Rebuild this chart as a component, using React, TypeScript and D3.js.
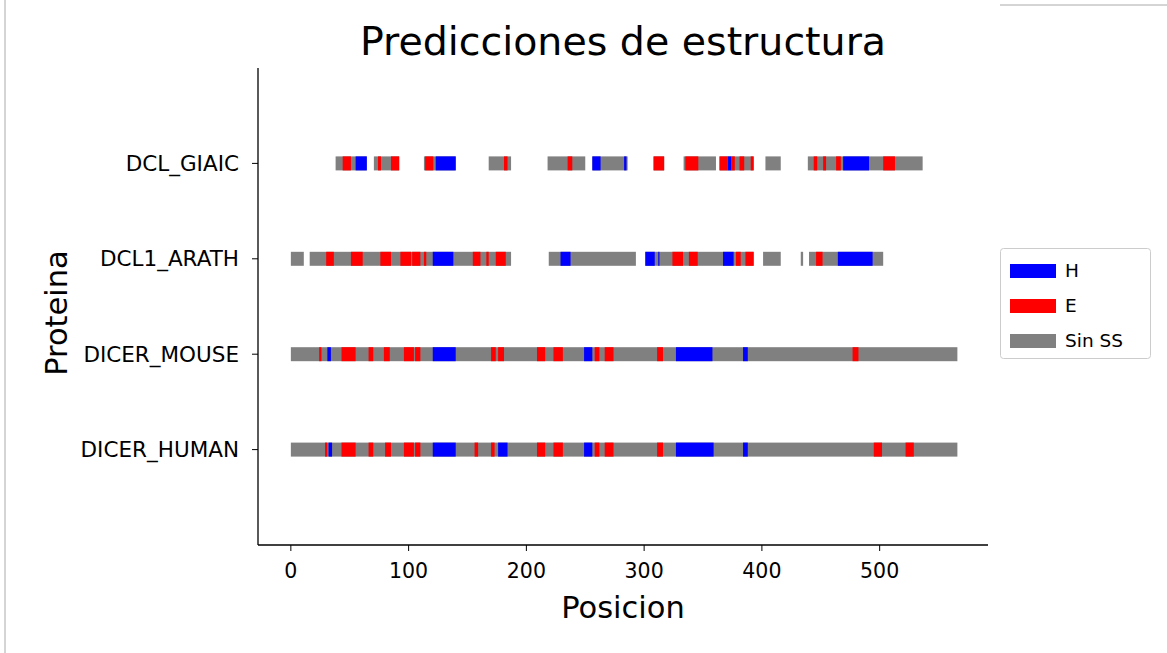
import React from 'react';
import * as d3 from 'd3';

// proteins from bottom to top
const proteins = ['DICER_HUMAN', 'DICER_MOUSE', 'DCL1_ARATH', 'DCL_GIAIC'];
const xTicks = [0, 100, 200, 300, 400, 500];

// [start, end] spans in residue positions
const giaicSpans = [[38, 64.5], [70.5, 92], [113, 140], [168, 187], [218, 250], [256, 286], [308, 317], [333.5, 361], [364, 393], [403, 416], [439, 536.5]];
const giaicHelix = [[55, 64.5], [123, 140], [256, 263], [283, 285], [371, 374], [469, 491]];
const giaicStrand = [[44, 51], [74, 76.5], [85, 92], [114, 121], [181, 184], [235, 239], [308, 317], [335, 346], [364, 371], [374, 377], [381, 385], [390.5, 393], [444, 447], [452, 454.5], [463, 467], [503, 513]];

const arathSpans = [[0, 11], [16, 187], [219, 293], [301, 393], [401, 416], [433, 435], [440, 503]];
const arathHelix = [[120.5, 138], [229, 237.5], [301, 309], [312, 313], [367, 376], [464.5, 494]];
const arathStrand = [[30, 36.5], [51, 61], [76, 85], [93, 102], [103, 110], [113, 115], [154.5, 161], [166, 168], [174, 182.5], [324, 333], [338, 345.5], [378, 382], [386, 393], [446, 451.5]];

const mouseSpans = [[0, 566]];
const mouseHelix = [[31, 34], [120.5, 140], [249, 256], [327, 358], [384, 388]];
const mouseStrand = [[24, 26], [43, 55], [66, 70], [79, 84], [96, 104.5], [105.5, 110], [170, 174], [176, 181], [209, 216], [223, 231], [258, 262], [266.5, 274], [311, 316], [477, 482]];

const humanSpans = [[0, 566]];
const humanHelix = [[32, 35], [120.5, 140], [176, 184], [249, 256], [327, 359], [384, 388]];
const humanStrand = [[29, 31], [43, 55], [66, 70], [80, 85], [96, 104.5], [105.5, 110], [156, 159], [170, 173], [209, 216], [223, 231], [258, 262], [266.5, 274], [311, 316], [495, 502], [522, 529]];

const spans = [humanSpans, mouseSpans, arathSpans, giaicSpans];
const helix = [humanHelix, mouseHelix, arathHelix, giaicHelix];
const strand = [humanStrand, mouseStrand, arathStrand, giaicStrand];

const legendLabels = ['H', 'E', 'Sin SS'];
const colors = { H: '#0000ff', E: '#ff0000', C: '#808080' };

export default function App() {
  const left = 258, right = 988, top = 68, bottom = 545;
  const font = 'DejaVu Sans, sans-serif';

  const x = d3.scaleLinear().domain([-27.9, 592]).range([left, right]);
  const y = d3.scaleLinear().domain([-1, 4]).range([bottom, top]);
  const barH = 14;

  const bars = (list, i, color, key) =>
    list.map((d, j) => (
      <rect key={`${key}-${i}-${j}`} x={x(d[0])} width={x(d[1]) - x(d[0])}
        y={y(i) - barH / 2} height={barH} fill={color} />
    ));

  const legendColors = [colors.H, colors.E, colors.C];

  return (
    <svg width={1167} height={653} style={{ position: 'absolute', left: 0, top: 0, background: '#fff' }}>
      <line x1={5} x2={5} y1={0} y2={653} stroke="#aaa" />
      <line x1={1000} x2={1167} y1={5} y2={5} stroke="#aaa" />

      <text x={623} y={55} textAnchor="middle" fontFamily={font} fontSize={39.5}>Predicciones de estructura</text>

      {proteins.map((p, i) => (
        <g key={p}>
          {bars(spans[i], i, colors.C, 'c')}
          {bars(helix[i], i, colors.H, 'h')}
          {bars(strand[i], i, colors.E, 'e')}
        </g>
      ))}

      <line x1={left} x2={left} y1={top} y2={bottom} stroke="#000" strokeWidth={1.3} />
      <line x1={left} x2={right} y1={bottom} y2={bottom} stroke="#000" strokeWidth={1.3} />

      {proteins.map((p, i) => (
        <g key={`yt-${p}`}>
          <line x1={left - 6} x2={left} y1={y(i)} y2={y(i)} stroke="#000" />
          <text x={left - 19} y={y(i)} dy="0.35em" textAnchor="end" fontFamily={font} fontSize={21.5}>{p}</text>
        </g>
      ))}

      {xTicks.map((t) => (
        <g key={`xt-${t}`}>
          <line x1={x(t)} x2={x(t)} y1={bottom} y2={bottom + 6} stroke="#000" />
          <text x={x(t)} y={bottom + 33} textAnchor="middle" fontFamily={font} fontSize={20.5}>{t}</text>
        </g>
      ))}

      <text x={623} y={618} textAnchor="middle" fontFamily={font} fontSize={30.5}>Posicion</text>
      <text transform="translate(67,313) rotate(-90)" textAnchor="middle" fontFamily={font} fontSize={30.5}>Proteina</text>

      <rect x={1000.5} y={248.5} width={150} height={110} rx={3} fill="#fff" stroke="#ccc" />
      {legendLabels.map((l, i) => (
        <g key={`lg-${l}`}>
          <rect x={1010} y={264 + i * 35} width={46} height={14} fill={legendColors[i]} />
          <text x={1065} y={271 + i * 35} dy="0.35em" fontFamily={font} fontSize={18.5}>{l}</text>
        </g>
      ))}
    </svg>
  );
}
